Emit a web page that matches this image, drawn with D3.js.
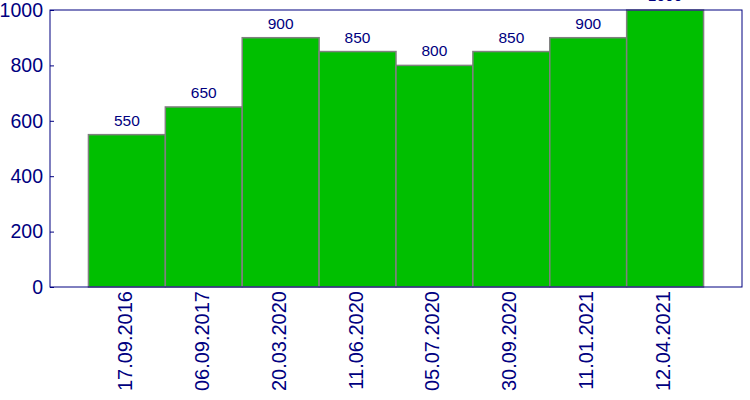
<!DOCTYPE html>
<html>
<head>
<meta charset="utf-8">
<script src="https://cdn.jsdelivr.net/npm/d3@7"></script>
<style>
  body { margin: 0; background: #fff; }
  text { font-family: "Liberation Sans", Arial, sans-serif; }
</style>
</head>
<body>
<svg id="chart"></svg>
<script>
// chart data
const dates = ["17.09.2016", "06.09.2017", "20.03.2020", "11.06.2020", "05.07.2020", "30.09.2020", "11.01.2021", "12.04.2021"];
const values = [550, 650, 900, 850, 800, 850, 900, 1000];
const yTicks = [0, 200, 400, 600, 800, 1000];

const width = 750;
const height = 400;
const marginTop = 10;
const marginRight = 8;
const marginBottom = 113;
const marginLeft = 50;
const navy = "#000080";

const svg = d3.select("#chart")
    .attr("width", width)
    .attr("height", height)
    .attr("viewBox", [0, 0, width, height]);

const x = d3.scaleBand()
    .domain(dates)
    .range([marginLeft, width - marginRight])
    .paddingInner(0)
    .paddingOuter(0.5);

const y = d3.scaleLinear()
    .domain([0, 1000])
    .range([height - marginBottom, marginTop]);

// bars
svg.append("g")
    .selectAll("rect")
    .data(values)
    .join("rect")
    .attr("x", (d, i) => x(dates[i]))
    .attr("y", d => y(d))
    .attr("width", x.bandwidth())
    .attr("height", d => y(0) - y(d))
    .attr("fill", "#00bf00")
    .attr("stroke", "#808080")
    .attr("stroke-width", 1.5);

// value labels
svg.append("g")
    .selectAll("text")
    .data(values)
    .join("text")
    .attr("x", (d, i) => x(dates[i]) + x.bandwidth() / 2)
    .attr("y", d => y(d) - 9)
    .attr("text-anchor", "middle")
    .attr("font-size", 15.5)
    .attr("fill", navy)
    .text(d => d);

// frame
svg.append("rect")
    .attr("x", marginLeft)
    .attr("y", marginTop)
    .attr("width", width - marginLeft - marginRight)
    .attr("height", height - marginTop - marginBottom)
    .attr("fill", "none")
    .attr("stroke", navy)
    .attr("stroke-width", 1);

// y axis, ticks inward
const yAxis = svg.append("g")
    .attr("transform", `translate(${marginLeft},0)`)
    .call(d3.axisRight(y).tickValues(yTicks).tickSize(4).tickFormat(""));
yAxis.select(".domain").remove();
yAxis.selectAll("line").attr("stroke", navy);

svg.append("g")
    .selectAll("text")
    .data(yTicks)
    .join("text")
    .attr("x", marginLeft - 7)
    .attr("y", d => y(d))
    .attr("dy", "0.35em")
    .attr("text-anchor", "end")
    .attr("font-size", 19.5)
    .attr("fill", navy)
    .text(d => d);

// x labels, rotated
svg.append("g")
    .selectAll("text")
    .data(dates)
    .join("text")
    .attr("transform", d => `translate(${x(d) + x.bandwidth() / 2 + 5},${height - marginBottom + 4}) rotate(-90)`)
    .attr("text-anchor", "end")
    .attr("font-size", 20)
    .attr("fill", navy)
    .text(d => d);
</script>
</body>
</html>
